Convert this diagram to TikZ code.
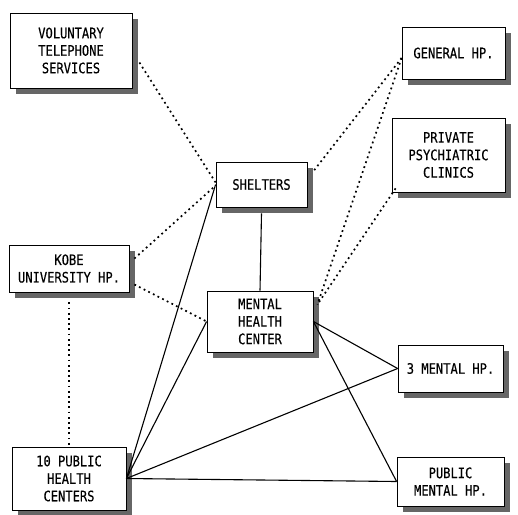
\documentclass[tikz,border=0pt]{standalone}
\usepackage{fontspec}
\newfontfamily\boxfont[FakeStretch=0.84,FakeBold=0.3]{DejaVu Sans Mono}
\usetikzlibrary{calc,shadows}
\tikzset{
  unit/.style={rectangle,draw,fill=white,line width=0.8pt,inner sep=0pt,align=center,
    font={\boxfont\fontsize{14.4pt}{17.5pt}\selectfont},
    drop shadow={shadow xshift=6pt,shadow yshift=-6pt,fill=black!60,opacity=1}},
  link/.style={line width=1.1pt},
  tie/.style={line width=1.7pt,dash pattern=on 1.8pt off 3.4pt}
}

\begin{document}
\begin{tikzpicture}[x=1pt,y=-1pt]
\useasboundingbox (0,0) rectangle (518,514);
% boxes
\node[unit,minimum width=122pt,minimum height=75pt] (vts) at (71,50.5) {VOLUNTARY\\TELEPHONE\\SERVICES};
\node[unit,minimum width=103pt,minimum height=52pt] (gen) at (453.5,53) {GENERAL HP.};
\node[unit,minimum width=91pt,minimum height=45pt] (shel) at (261.5,184.5) {SHELTERS};
\node[unit,minimum width=113pt,minimum height=74pt] (priv) at (448.5,155) {PRIVATE\\PSYCHIATRIC\\CLINICS};
\node[unit,minimum width=120pt,minimum height=47pt] (kobe) at (69,268.5) {KOBE\\UNIVERSITY HP.};
\node[unit,minimum width=106pt,minimum height=61pt] (mhc) at (260,321.5) {MENTAL\\HEALTH\\CENTER};
\node[unit,minimum width=105pt,minimum height=47pt] (mh3) at (450.5,368.5) {3 MENTAL HP.};
\node[unit,minimum width=114pt,minimum height=63pt] (phc) at (69,478.5) {10 PUBLIC\\HEALTH\\CENTERS};
\node[unit,minimum width=107pt,minimum height=49pt] (pmh) at (450.5,481.5) {PUBLIC\\MENTAL HP.};
% dotted ties
\draw[tie] ([xshift=7pt,yshift=-12pt]vts.east) -- ([yshift=2pt]shel.west);
\draw[tie] ([yshift=-5pt]gen.west) -- ([xshift=5pt,yshift=12pt]shel.east);
\draw[tie] ([yshift=-5pt]gen.west) -- ([xshift=4pt,yshift=17pt]mhc.east);
\draw[tie] ([xshift=4pt,yshift=4pt]priv.south west) -- ([xshift=4pt,yshift=17pt]mhc.east);
\draw[tie] ([xshift=5pt,yshift=10pt]kobe.east) -- ([yshift=-1pt]shel.west);
\draw[tie] ([xshift=5pt,yshift=-16pt]kobe.east) -- (mhc.west);
\draw[tie] ([yshift=-10pt]kobe.south) -- (phc.north);
% solid links
\draw[link] ([yshift=-6pt]shel.south) -- (mhc.north);
\foreach \t in {shel.west,mhc.west,mh3.west,pmh.west}{\draw[link] (phc.east) -- (\t);}
\foreach \t in {mh3.west,pmh.west}{\draw[link] (mhc.east) -- (\t);}
\end{tikzpicture}
\end{document}
